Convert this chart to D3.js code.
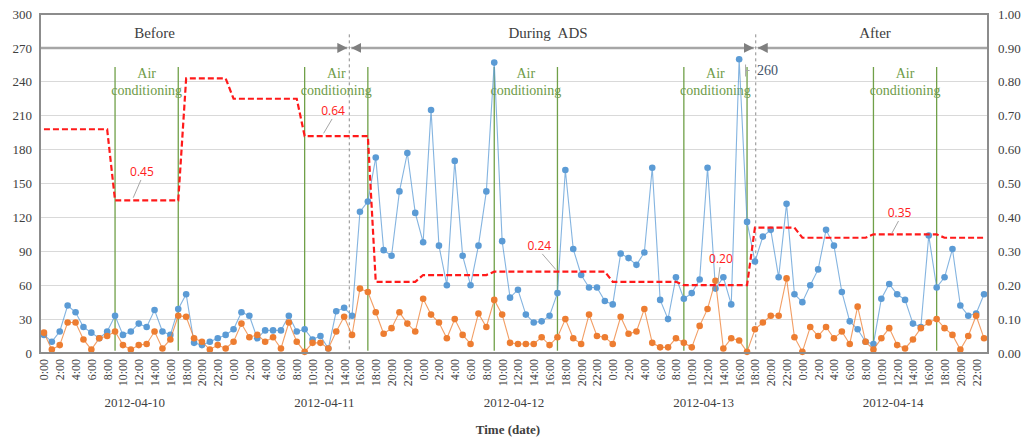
<!DOCTYPE html>
<html>
<head>
<meta charset="utf-8">
<script src="https://cdn.jsdelivr.net/npm/d3@7"></script>
<style>
  body { margin: 0; background: #fff; }
  svg { display: block; }
</style>
</head>
<body>
<div id="chart"></div>
<script>
// hourly data, 2012-04-10 0:00 .. 2012-04-14 23:00
var days = ['2012-04-10', '2012-04-11', '2012-04-12', '2012-04-13', '2012-04-14'];
var hourTicks = [0, 2, 4, 6, 8, 10, 12, 14, 16, 18, 20, 22];

var blueValues = [
  16, 10, 19, 42, 36, 23, 18, 13, 19, 33, 16, 19, 26, 23, 38, 19, 16, 39, 52, 9, 7, 10, 13, 16,
  21, 36, 33, 13, 20, 20, 20, 33, 19, 21, 12, 15, 4, 37, 40, 33, 125, 134, 173, 91, 86, 143, 177, 124,
  98, 215, 95, 60, 170, 86, 60, 95, 143, 257, 99, 49, 56, 34, 27, 28, 33, 53, 162, 92, 69, 58, 58, 46,
  43, 88, 84, 78, 89, 164, 47, 30, 67, 48, 53, 65, 164, 57, 67, 43, 260, 116, 81, 103, 109, 67, 132, 52,
  45, 60, 74, 109, 95, 54, 28, 21, 10, 8, 48, 61, 52, 47, 26, 23, 104, 58, 67, 92, 42, 33, 35, 52
];
var orangeValues = [
  18, 3, 7, 27, 27, 12, 3, 13, 15, 19, 7, 3, 7, 8, 19, 4, 12, 33, 32, 13, 10, 3, 7, 4,
  10, 26, 14, 16, 10, 14, 4, 27, 10, 1, 9, 9, 4, 19, 32, 16, 57, 54, 36, 17, 22, 36, 26, 19,
  48, 34, 27, 13, 30, 16, 8, 35, 23, 47, 34, 9, 8, 8, 8, 14, 7, 14, 30, 13, 8, 34, 15, 14,
  8, 32, 17, 19, 39, 9, 5, 5, 13, 9, 5, 24, 39, 64, 4, 13, 11, 1, 21, 27, 33, 33, 66, 14,
  1, 23, 15, 23, 13, 19, 8, 41, 10, 3, 13, 22, 7, 4, 12, 22, 27, 30, 22, 16, 3, 15, 33, 13
];
// ratio on the right axis
var ratioValues = [
  0.66, 0.66, 0.66, 0.66, 0.66, 0.66, 0.66, 0.66, 0.66, 0.45, 0.45, 0.45, 0.45, 0.45, 0.45, 0.45, 0.45, 0.45, 0.81, 0.81, 0.81, 0.81, 0.81, 0.81,
  0.75, 0.75, 0.75, 0.75, 0.75, 0.75, 0.75, 0.75, 0.75, 0.64, 0.64, 0.64, 0.64, 0.64, 0.64, 0.64, 0.64, 0.64, 0.21, 0.21, 0.21, 0.21, 0.21, 0.21,
  0.23, 0.23, 0.23, 0.23, 0.23, 0.23, 0.23, 0.23, 0.23, 0.24, 0.24, 0.24, 0.24, 0.24, 0.24, 0.24, 0.24, 0.24, 0.24, 0.24, 0.24, 0.24, 0.24, 0.24,
  0.21, 0.21, 0.21, 0.21, 0.21, 0.21, 0.21, 0.21, 0.21, 0.20, 0.20, 0.20, 0.20, 0.20, 0.20, 0.20, 0.20, 0.20, 0.37, 0.37, 0.37, 0.37, 0.37, 0.37,
  0.34, 0.34, 0.34, 0.34, 0.34, 0.34, 0.34, 0.34, 0.34, 0.35, 0.35, 0.35, 0.35, 0.35, 0.35, 0.35, 0.35, 0.35, 0.34, 0.34, 0.34, 0.34, 0.34, 0.34
];
var leftTicks = [0, 30, 60, 90, 120, 150, 180, 210, 240, 270, 300];
var rightTicks = [0, 0.1, 0.2, 0.3, 0.4, 0.5, 0.6, 0.7, 0.8, 0.9, 1.0];

// air conditioning periods (start hour, end hour)
var acStarts = [9, 33, 57, 81, 105];
var acEnds = [17, 41, 65, 89, 113];
// phase boundaries (hours) and phase names
var phaseBounds = [38.65, 90.1];
var phaseNames = ['Before', 'During  ADS', 'After'];
var phaseLabelHours = [14, 63.8, 105.2];

// ratio labels: text, label position (hour, ratio), leader end (hour, ratio)
var ratioLabels = [
  { text: '0.45', h: 12.4, r: 0.534, h2: 11.3, r2: 0.458 },
  { text: '0.64', h: 36.6, r: 0.714, h2: 35.4, r2: 0.648 },
  { text: '0.24', h: 62.7, r: 0.316, h2: 64.8, r2: 0.246 },
  { text: '0.20', h: 85.7, r: 0.277, h2: 85.3, r2: 0.206 },
  { text: '0.35', h: 108.3, r: 0.413, h2: 107.3, r2: 0.352 }
];
var peakLabel = { text: '260', h: 91.6, v: 250 };

var W = 1023, H = 442;
var margin = { top: 14, right: 35, bottom: 89, left: 40 };
var width = W - margin.left - margin.right;
var height = H - margin.top - margin.bottom;
var serif = '"Liberation Serif", "Times New Roman", serif';

var svg = d3.select('#chart').append('svg')
  .attr('width', W)
  .attr('height', H)
  .append('g')
  .attr('transform', 'translate(' + margin.left + ',' + margin.top + ')');

var x = d3.scaleLinear().domain([-0.5, ratioValues.length - 0.5]).range([0, width]);
var yL = d3.scaleLinear().domain([0, 300]).range([height, 0]);
var yR = d3.scaleLinear().domain([0, 1]).range([height, 0]);

// grid
svg.append('g').selectAll('line')
  .data(leftTicks.slice(1, -1))
  .enter().append('line')
  .attr('x1', 0).attr('x2', width)
  .attr('y1', function (d) { return yL(d); })
  .attr('y2', function (d) { return yL(d); })
  .attr('stroke', '#d9d9d9')
  .attr('shape-rendering', 'crispEdges');

// axes
var gl = svg.append('g')
  .call(d3.axisLeft(yL).tickValues(leftTicks).tickSize(0).tickPadding(8));
var gr = svg.append('g')
  .attr('transform', 'translate(' + width + ',0)')
  .call(d3.axisRight(yR).tickValues(rightTicks).tickSize(0).tickPadding(10).tickFormat(d3.format('.2f')));

var allHours = [];
days.forEach(function (d, i) {
  hourTicks.forEach(function (h) { allHours.push(i * 24 + h); });
});
var gb = svg.append('g')
  .attr('transform', 'translate(0,' + height + ')')
  .call(d3.axisBottom(x).tickValues(allHours).tickSize(0)
    .tickFormat(function (d) { return (d % 24) + ':00'; }));
gb.selectAll('text')
  .attr('transform', 'rotate(-90)')
  .attr('text-anchor', 'end')
  .attr('x', -6)
  .attr('y', 0)
  .attr('dy', '0.33em');

[gl, gr, gb].forEach(function (g) {
  g.select('.domain').remove();
  g.attr('font-family', serif).attr('font-size', 13);
  g.selectAll('text').attr('fill', '#404040');
});
gb.attr('font-size', 12);

// day labels
svg.append('g').selectAll('text')
  .data(days)
  .enter().append('text')
  .attr('x', function (d, i) { return x(i * 24 + 11.5); })
  .attr('y', height + 54)
  .attr('text-anchor', 'middle')
  .style('font-family', serif)
  .style('font-size', '13px')
  .attr('fill', '#404040')
  .text(function (d) { return d; });

svg.append('text')
  .attr('x', width / 2 - 6)
  .attr('y', height + 81)
  .attr('text-anchor', 'middle')
  .style('font-family', serif)
  .style('font-size', '13px')
  .style('font-weight', 'bold')
  .attr('fill', '#404040')
  .text('Time (date)');

// air conditioning periods
var ac = svg.append('g');
acStarts.forEach(function (s, i) {
  [s, acEnds[i]].forEach(function (h) {
    ac.append('line')
      .attr('x1', x(h)).attr('x2', x(h))
      .attr('y1', yL(253)).attr('y2', yL(2))
      .attr('stroke', '#70a048')
      .attr('stroke-width', 1.3);
  });
  var cx = (x(s) + x(acEnds[i])) / 2;
  ac.append('text')
    .attr('x', cx).attr('y', yL(253) + 11)
    .attr('text-anchor', 'middle')
    .style('font-family', serif).style('font-size', '14px')
    .attr('fill', '#6e9b48')
    .text('Air');
  ac.append('text')
    .attr('x', cx).attr('y', yL(253) + 28)
    .attr('text-anchor', 'middle')
    .style('font-family', serif).style('font-size', '14px')
    .attr('fill', '#6e9b48')
    .text('conditioning');
});

// phase separators & arrows
var defs = svg.append('defs');
defs.append('marker')
  .attr('id', 'ah')
  .attr('viewBox', '0 0 10 10')
  .attr('refX', 10).attr('refY', 5)
  .attr('markerWidth', 4).attr('markerHeight', 4)
  .attr('orient', 'auto-start-reverse')
  .append('path')
  .attr('d', 'M0,0 L10,5 L0,10 Z')
  .attr('fill', '#7f7f7f');

phaseBounds.forEach(function (b) {
  svg.append('line')
    .attr('x1', x(b)).attr('x2', x(b))
    .attr('y1', yL(282)).attr('y2', yL(0))
    .attr('stroke', '#8c8c8c')
    .attr('stroke-dasharray', '3,3');
});
var edges = [x.range()[0]].concat(phaseBounds.map(function (b) { return x(b); }), [x.range()[1]]);
phaseNames.forEach(function (p, i) {
  var seg = svg.append('line')
    .attr('x1', edges[i] + (i > 0 ? 2 : 0))
    .attr('x2', edges[i + 1] - (i < phaseNames.length - 1 ? 2 : 0))
    .attr('y1', yL(270)).attr('y2', yL(270))
    .attr('stroke', '#a6a6a6')
    .attr('stroke-width', 2.5);
  if (i > 0) seg.attr('marker-start', 'url(#ah)');
  if (i < phaseNames.length - 1) seg.attr('marker-end', 'url(#ah)');
  svg.append('text')
    .attr('x', x(phaseLabelHours[i]))
    .attr('y', yL(270) - 10)
    .attr('text-anchor', 'middle')
    .style('font-family', serif)
    .style('font-size', '15px')
    .style('white-space', 'pre')
    .attr('fill', '#404040')
    .text(p);
});

// series
function drawSeries(values, color) {
  var line = d3.line()
    .x(function (d, i) { return x(i); })
    .y(function (d) { return yL(d); });
  var g = svg.append('g');
  g.append('path')
    .attr('d', line(values))
    .attr('fill', 'none')
    .attr('stroke', color)
    .attr('stroke-opacity', 0.75)
    .attr('stroke-width', 1.1);
  g.selectAll('circle')
    .data(values)
    .enter().append('circle')
    .attr('cx', function (d, i) { return x(i); })
    .attr('cy', function (d) { return yL(d); })
    .attr('r', 3.3)
    .attr('fill', color);
}
drawSeries(blueValues, '#5b9bd5');
drawSeries(orangeValues, '#ed7d31');

var ratioLine = d3.line()
  .x(function (d, i) { return x(i); })
  .y(function (d) { return yR(d); });
svg.append('path')
  .attr('d', ratioLine(ratioValues))
  .attr('fill', 'none')
  .attr('stroke', '#ff1a1a')
  .attr('stroke-width', 2.2)
  .attr('stroke-dasharray', '6,3');

// ratio labels
ratioLabels.forEach(function (l) {
  svg.append('line')
    .attr('x1', x(l.h) + (l.h2 > l.h ? 3 : -1)).attr('y1', yR(l.r) + 8)
    .attr('x2', x(l.h2)).attr('y2', yR(l.r2))
    .attr('stroke', '#a6a6a6');
  svg.append('text')
    .attr('x', x(l.h)).attr('y', yR(l.r))
    .attr('dy', '0.35em')
    .attr('text-anchor', 'middle')
    .style('font-family', '"Open Sans", sans-serif')
    .style('font-size', '12px')
    .attr('fill', '#ff2020')
    .text(l.text);
});

// peak label
var px = x(peakLabel.h), py = yL(peakLabel.v);
svg.append('path')
  .attr('d', 'M' + (px - 22) + ',' + (py - 6) + 'V' + (py + 6) + 'M' + (px - 22) + ',' + py + 'H' + (px - 18))
  .attr('fill', 'none')
  .attr('stroke', '#a6a6a6');
svg.append('text')
  .attr('x', px).attr('y', py)
  .attr('dy', '0.35em')
  .attr('text-anchor', 'middle')
  .style('font-family', serif)
  .style('font-size', '14px')
  .attr('fill', '#44546a')
  .text(peakLabel.text);

// plot frame
svg.append('rect')
  .attr('width', width).attr('height', height)
  .attr('fill', 'none')
  .attr('stroke', '#8c8c8c')
  .attr('stroke-width', 2);
</script>
</body>
</html>
